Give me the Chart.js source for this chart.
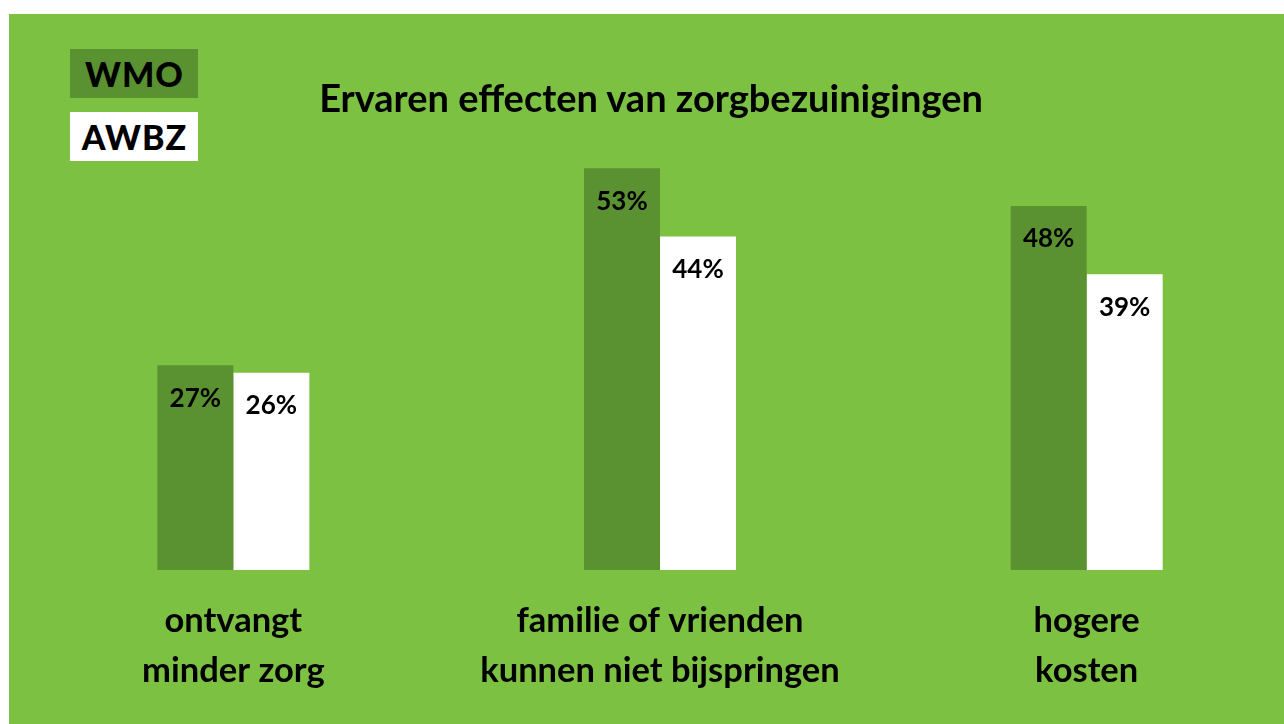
<!DOCTYPE html>
<html>
<head>
<meta charset="utf-8">
<script src="https://cdn.jsdelivr.net/npm/chart.js@4"></script>
<style>
  body { margin: 0; background: #fff; width: 1284px; height: 724px; overflow: hidden; position: relative; }
  #panel { position: absolute; left: 9px; top: 14px; width: 1275px; height: 710px; background: #7dc142; }
  #wrap { position: absolute; left: 0; top: 0; width: 1284px; height: 724px; overflow: hidden; }
  #chart { position: absolute; left: 0; top: 0; }
  #title { position: absolute; left: 251px; width: 800px; top: 74px; height: 46px; line-height: 46px; margin: 0;
           text-align: center; font-family: Lato, sans-serif; font-weight: bold; font-size: 38px; color: #000; }
  .key { position: absolute; left: 70px; width: 128px; height: 49px; line-height: 49px; text-align: center;
         font-family: Lato, sans-serif; font-weight: 900; text-indent: 1px;
         font-size: 34px; letter-spacing: 1px; color: #000; }
</style>
</head>
<body>
<div id="panel"></div>
<div id="wrap"><canvas id="chart" width="1300" height="724"></canvas></div>
<h1 id="title">Ervaren effecten van zorgbezuinigingen</h1>
<div id="legend"></div>
<script>
// ========= Data =========
const categories = [
  ['ontvangt', 'minder zorg'],
  ['familie of vrienden', 'kunnen niet bijspringen'],
  ['hogere', 'kosten']
];
const seriesNames = ['WMO', 'AWBZ'];
const wmoValues = [27, 53, 48];
const awbzValues = [26, 44, 39];
const seriesColors = ['#5a9232', '#ffffff'];

const FONT = "Lato, sans-serif";

// ========= Legend boxes =========
const legend = document.getElementById('legend');
seriesNames.forEach((name, i) => {
  const d = document.createElement('div');
  d.className = 'key';
  d.style.top = (49 + i * 63) + 'px';
  d.style.background = seriesColors[i];
  d.textContent = name;
  legend.appendChild(d);
});

// ========= Value labels inside bars =========
const valueLabels = {
  id: 'valueLabels',
  afterDatasetsDraw(chart) {
    const ctx = chart.ctx;
    ctx.save();
    ctx.font = 'bold 26px ' + FONT;
    ctx.fillStyle = '#000';
    ctx.textAlign = 'center';
    ctx.textBaseline = 'middle';
    chart.data.datasets.forEach((ds, i) => {
      chart.getDatasetMeta(i).data.forEach((bar, j) => {
        ctx.fillText(ds.data[j] + '%', bar.x, bar.y + 33);
      });
    });
    ctx.restore();
  }
};

const ctx = document.getElementById('chart').getContext('2d');
new Chart(ctx, {
  type: 'bar',
  data: {
    labels: categories,
    datasets: [
      { label: seriesNames[0], data: wmoValues, backgroundColor: seriesColors[0] },
      { label: seriesNames[1], data: awbzValues, backgroundColor: seriesColors[1] }
    ]
  },
  options: {
    responsive: false,
    animation: false,
    layout: { padding: { left: 20, right: 0, top: 153, bottom: 10 } },
    datasets: { bar: { barPercentage: 1, categoryPercentage: 0.3563 } },
    plugins: {
      legend: { display: false },
      tooltip: { enabled: false },
      title: { display: false }
    },
    scales: {
      x: {
        grid: { display: false },
        border: { display: false },
        ticks: {
          color: '#000',
          padding: 18,
          maxRotation: 0,
          minRotation: 0,
          autoSkip: false,
          font: { family: FONT, size: 34.5, weight: 'bold', lineHeight: 1.45 }
        }
      },
      y: { display: false, min: 0, max: 55 }
    }
  },
  plugins: [valueLabels]
});
</script>
</body>
</html>
